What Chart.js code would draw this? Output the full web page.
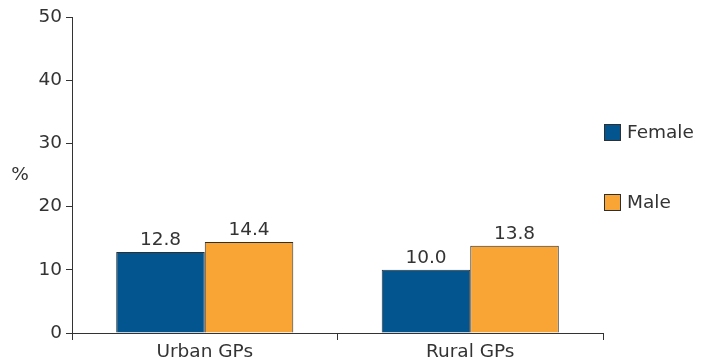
<!DOCTYPE html>
<html>
<head>
<meta charset="utf-8">
<script src="https://cdn.jsdelivr.net/npm/chart.js@4/dist/chart.umd.min.js"></script>
<style>
  html, body { margin: 0; padding: 0; background: #fff; }
  #wrap { width: 709px; height: 363px; }
</style>
</head>
<body>
<div id="wrap"><canvas id="chart" width="709" height="363"></canvas></div>
<script>
/* ─── Data ───────────────────────────────────────────────────────────────── */
const categories   = ['Urban GPs', 'Rural GPs'];
const femaleValues = [12.8, 10.0];
const maleValues   = [14.4, 13.8];
const seriesNames  = ['Female', 'Male'];
const yTicks       = [0, 10, 20, 30, 40, 50];

const INK   = '#333333';
const EDGE  = '#2f2f2f';
const FONT  = '"DejaVu Sans", Verdana, sans-serif';
const SIZE  = 18.5;
const BLUE  = '#02558f';
const AMBER = '#f8a535';

Chart.defaults.font.family = FONT;
Chart.defaults.font.size = SIZE;
Chart.defaults.color = INK;

/* ─── Value labels above each bar ────────────────────────────────────────── */
const valueLabels = {
  id: 'valueLabels',
  afterDatasetsDraw(chart) {
    const ctx = chart.ctx;
    ctx.save();
    ctx.font = `${SIZE}px ${FONT}`;
    ctx.fillStyle = INK;
    ctx.textAlign = 'center';
    ctx.textBaseline = 'alphabetic';
    chart.data.datasets.forEach((ds, i) => {
      chart.getDatasetMeta(i).data.forEach((bar, j) => {
        ctx.fillText(ds.data[j].toFixed(1), bar.x, bar.y - 7);
      });
    });
    ctx.restore();
  }
};

/* ─── Side legend + "%" axis caption ─────────────────────────────────────── */
const sideLegend = {
  id: 'sideLegend',
  afterDraw(chart) {
    const ctx = chart.ctx;
    const area = chart.chartArea;
    ctx.save();
    ctx.font = `${SIZE}px ${FONT}`;
    ctx.fillStyle = INK;
    ctx.textBaseline = 'middle';

    // y caption
    ctx.textAlign = 'center';
    ctx.fillText('%', 20, chart.scales.y.getPixelForValue(25) + 0.5);

    // legend entries
    ctx.textAlign = 'left';
    const rows = [132, 202];
    chart.data.datasets.forEach((ds, i) => {
      const y = rows[i];
      const x = area.right + 1;
      ctx.fillStyle = ds.backgroundColor;
      ctx.fillRect(x, y - 8, 17, 17);
      ctx.strokeStyle = EDGE;
      ctx.lineWidth = 1;
      ctx.strokeRect(x + 0.5, y - 7.5, 16, 16);
      ctx.fillStyle = INK;
      ctx.fillText(ds.label, x + 23, y + 1);
    });
    ctx.restore();
  }
};

/* ─── Chart ──────────────────────────────────────────────────────────────── */
new Chart(document.getElementById('chart'), {
  type: 'bar',
  data: {
    labels: categories,
    datasets: [
      { label: seriesNames[0], data: femaleValues, backgroundColor: BLUE,
        borderColor: EDGE, borderWidth: 1 },
      { label: seriesNames[1], data: maleValues, backgroundColor: AMBER,
        borderColor: EDGE, borderWidth: 1 }
    ]
  },
  options: {
    responsive: false,
    animation: false,
    devicePixelRatio: 1,
    layout: { padding: { top: 17, right: 106, left: 0, bottom: 0 } },
    datasets: { bar: { categoryPercentage: 0.667, barPercentage: 1.0 } },
    plugins: {
      legend: { display: false },
      tooltip: { enabled: false }
    },
    scales: {
      x: {
        grid: {
          offset: true,
          drawOnChartArea: false,
          drawTicks: true,
          tickLength: 7,
          color: INK
        },
        border: { color: INK, width: 1 },
        ticks: { color: INK, padding: 1, font: { size: SIZE } },
        afterFit(scale) { scale.height = 30; }
      },
      y: {
        min: 0,
        max: 50,
        afterBuildTicks(scale) { scale.ticks = yTicks.map(v => ({ value: v })); },
        grid: {
          drawOnChartArea: false,
          drawTicks: true,
          tickLength: 6,
          color: INK
        },
        border: { color: INK, width: 1 },
        ticks: { color: INK, padding: 4, font: { size: SIZE } },
        afterFit(scale) { scale.width = 72; }
      }
    }
  },
  plugins: [valueLabels, sideLegend]
});
</script>
</body>
</html>
